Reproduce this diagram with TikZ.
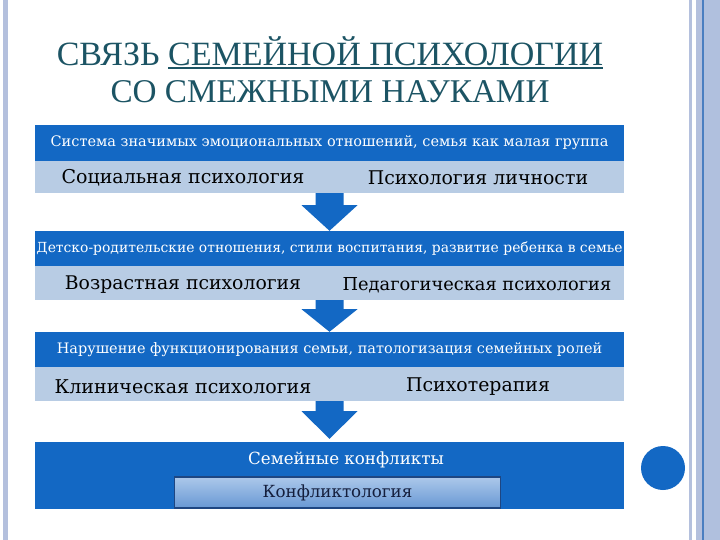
\documentclass[tikz,border=0pt]{standalone}
\usepackage{fontspec}
\setmainfont{DejaVu Serif}
\newfontfamily\titlefont{Liberation Serif}
\usetikzlibrary{calc}
\definecolor{dblue}{RGB}{19,104,196}
\definecolor{lband}{RGB}{184,204,228}
\definecolor{ttl}{RGB}{28,84,100}
\definecolor{stripc}{RGB}{180,192,221}
\definecolor{stripd}{RGB}{176,192,222}
\definecolor{stripline}{RGB}{74,126,192}
\definecolor{kbtop}{RGB}{172,200,234}
\definecolor{kbbot}{RGB}{104,152,212}
\definecolor{kbdraw}{RGB}{30,70,130}
\definecolor{kbtext}{RGB}{20,30,60}
\newsavebox\ulbox
\newcommand\myul[1]{\sbox\ulbox{#1}\rlap{\rule[-3pt]{\wd\ulbox}{1.8pt}}\usebox\ulbox}
\newcommand\blockarr[4]{%
  \fill[dblue] ($(#1.south)+(-14,0)$) -- ($(#1.south)+(14,0)$) -- ($(#1.south)+(14,#3)$)
    -- ($(#1.south)+(28,#3)$) -- ($(#2.north)+(0,-#4)$) -- ($(#1.south)+(-28,#3)$)
    -- ($(#1.south)+(-14,#3)$) -- cycle;}
\newcommand\fs[1]{\fontsize{#1}{#1}\selectfont}
\tikzset{
  darkband/.style={fill=dblue, text=white, minimum width=589pt, inner sep=0pt},
  lightband/.style={fill=lband, minimum width=589pt, inner sep=0pt},
  subj/.style={inner sep=0pt, text=black},
  ttlstyle/.style={inner sep=0pt, text=ttl},
}
\begin{document}
\begin{tikzpicture}[x=1pt,y=-1pt]
\useasboundingbox (0,0) rectangle (720,540);
\fill[white] (0,0) rectangle (720,540);
% side decoration
\fill[stripc] (3,0) rectangle (8,540);
\fill[stripc] (689,0) rectangle (692,540);
\fill[stripc] (696,0) rectangle (702,540);
\fill[stripline] (702,0) rectangle (703.5,540);
\fill[stripd] (703.5,0) rectangle (720,540);
% title
\node[ttlstyle, anchor=base, font=\titlefont\fs{34}] (t1) at (330,66) {СВЯЗЬ \myul{СЕМЕЙНОЙ ПСИХОЛОГИИ}};
\node[ttlstyle, anchor=base, font=\titlefont\fs{33.2}] (t2) at (330,103) {СО СМЕЖНЫМИ НАУКАМИ};
% bands
\node[darkband, minimum height=36pt, font=\fs{14.5}] (d1) at (329.5,143) {Система значимых эмоциональных отношений, семья как малая группа};
\node[lightband, minimum height=32pt] (l1) at (329.5,177) {};
\node[subj, font=\fs{19}] (s1a) at (183,178) {Социальная психология};
\node[subj, font=\fs{18.9}] (s1b) at (478,178) {Психология личности};

\node[darkband, minimum height=35pt, font=\fs{13.9}] (d2) at (329.5,248.5) {Детско-родительские отношения, стили воспитания, развитие ребенка в семье};
\node[lightband, minimum height=34pt] (l2) at (329.5,283) {};
\node[subj, font=\fs{18.8}] (s2a) at (183,285) {Возрастная психология};
\node[subj, font=\fs{17.8}] (s2b) at (477,285) {Педагогическая психология};

\node[darkband, minimum height=35pt, font=\fs{14.45}] (d3) at (329.5,349.5) {Нарушение функционирования семьи, патологизация семейных ролей};
\node[lightband, minimum height=34pt] (l3) at (329.5,384) {};
\node[subj, font=\fs{19}] (s3a) at (183,387) {Клиническая психология};
\node[subj, font=\fs{18.9}] (s3b) at (478,387) {Психотерапия};

\node[fill=dblue, minimum width=589pt, minimum height=67pt, inner sep=0pt] (d4) at (329.5,475.5) {};
\node[inner sep=0pt, text=white, font=\fs{16.7}] (sk) at (346,460) {Семейные конфликты};
\node[draw=kbdraw, line width=1.2pt, top color=kbtop, bottom color=kbbot,
  minimum width=326pt, minimum height=31pt, inner sep=0pt, text=kbtext,
  font=\fs{16.7}] (kb) at (337.5,492.5) {Конфликтология};
% arrows
\blockarr{l1}{d2}{12}{0}
\blockarr{l2}{d3}{9}{0}
\blockarr{l3}{d4}{10}{3}
% circle
\node[circle, fill=dblue, minimum size=44pt, inner sep=0pt] (dot) at (663,468) {};
\end{tikzpicture}
\end{document}
